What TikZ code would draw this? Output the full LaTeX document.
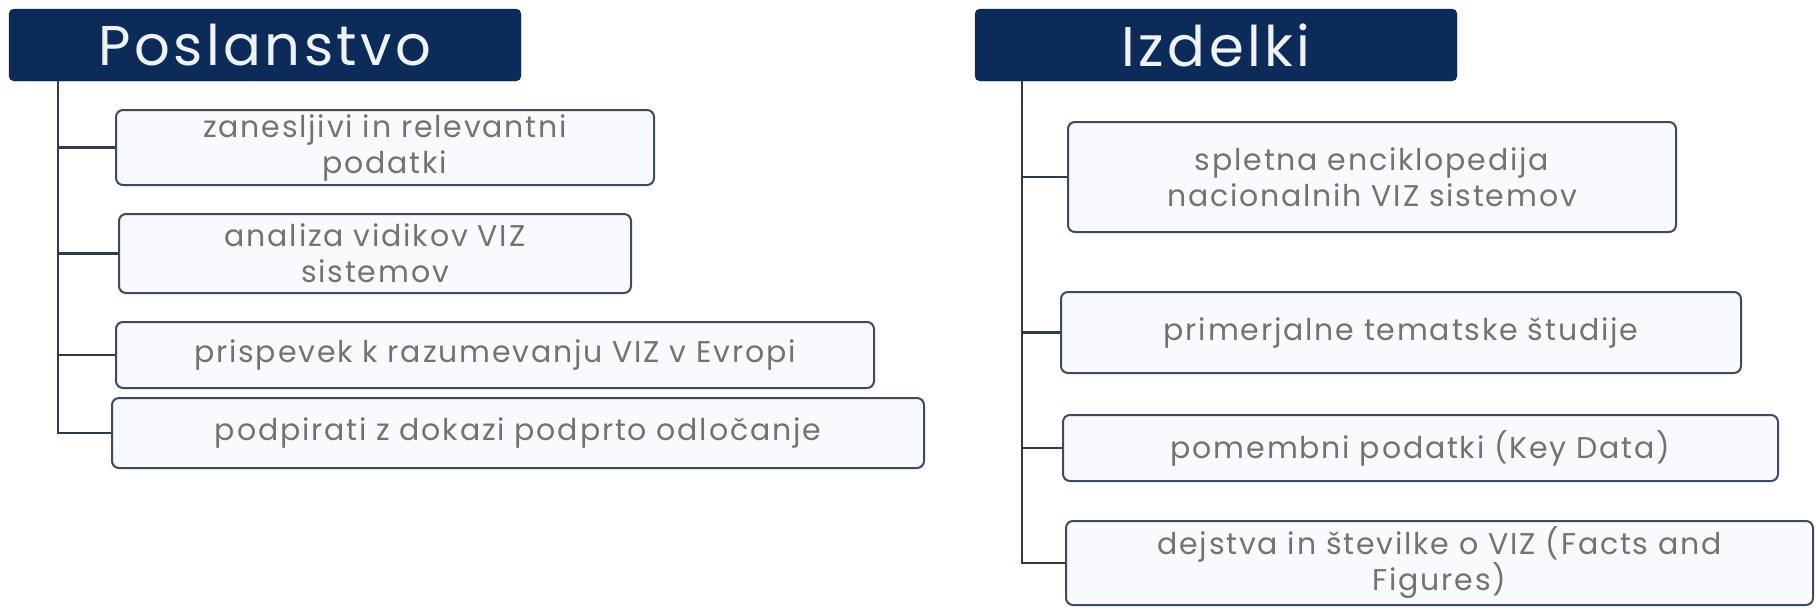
\documentclass[tikz,border=0pt]{standalone}
\usepackage{fontspec}
\setmainfont{Poppins}
\newfontfamily\hdrfont[LetterSpace=6]{Poppins}
\newfontfamily\itemfont[LetterSpace=6]{Poppins}
\definecolor{navy}{HTML}{0C2B58}
\definecolor{boxline}{HTML}{3E4B5E}
\definecolor{boxfill}{HTML}{F8FAFD}
\definecolor{txtgray}{HTML}{737373}
\definecolor{spine}{HTML}{2F3A4A}
\definecolor{hdrtext}{HTML}{EEF3FA}
\tikzset{
  hdr/.style={draw=navy, fill=navy, rounded corners=5pt, text=hdrtext, font=\hdrfont\fontsize{56}{60}\selectfont, inner sep=0pt},
  itembox/.style={draw=boxline, line width=2pt, fill=boxfill, rounded corners=7pt, text=txtgray, font=\itemfont\fontsize{30}{36}\selectfont, align=center, inner sep=0pt},
  conn/.style={draw=spine, line width=2.2pt}
}
\begin{document}
\begin{tikzpicture}[x=1pt,y=-1pt]
\useasboundingbox (0,0) rectangle (1816,608);
% headers
\node[hdr, minimum width=512pt, minimum height=72pt] (h1) at (265,45) {Poslanstvo};
\node[hdr, minimum width=482pt, minimum height=72pt] (h2) at (1216,45) {Izdelki};
% left boxes
\node[itembox, minimum width=538pt, minimum height=75pt] (b1) at (385,147.5) {zanesljivi in relevantni\\podatki};
\node[itembox, minimum width=512pt, minimum height=79pt] (b2) at (375,253.5) {analiza vidikov VIZ\\sistemov};
\node[itembox, minimum width=758pt, minimum height=66pt] (b3) at (495,355) {prispevek k razumevanju VIZ v Evropi};
\node[itembox, minimum width=812pt, minimum height=70pt] (b4) at (518,433) {podpirati z dokazi podprto odločanje};
% right boxes
\node[itembox, minimum width=608pt, minimum height=110pt] (b5) at (1372,177) {spletna enciklopedija\\nacionalnih VIZ sistemov};
\node[itembox, minimum width=680pt, minimum height=81pt] (b6) at (1401,332.5) {primerjalne tematske študije};
\node[itembox, minimum width=715pt, minimum height=66pt] (b7) at (1420.5,448) {pomembni podatki (Key Data)};
\node[itembox, minimum width=747pt, minimum height=84pt] (b8) at (1439.5,563) {dejstva in številke o VIZ (Facts and\\Figures)};
% spines
\coordinate (s1top) at (58,81);
\coordinate (s2top) at (1022,81);
\draw[conn] (s1top) -- (s1top |- b4.west) -- (b4.west);
\draw[conn] (s1top |- b1.west) -- (b1.west);
\draw[conn] (s1top |- b2.west) -- (b2.west);
\draw[conn] (s1top |- b3.west) -- (b3.west);
\draw[conn] (s2top) -- (s2top |- b8.west) -- (b8.west);
\draw[conn] (s2top |- b5.west) -- (b5.west);
\draw[conn] (s2top |- b6.west) -- (b6.west);
\draw[conn] (s2top |- b7.west) -- (b7.west);
\end{tikzpicture}
\end{document}
